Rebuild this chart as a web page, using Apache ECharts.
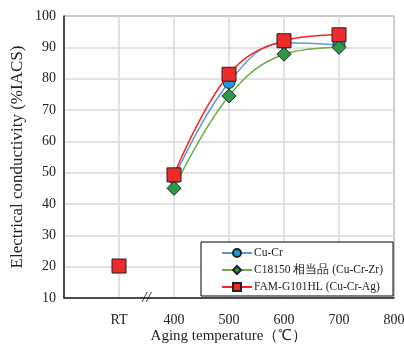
<!DOCTYPE html>
<html>
<head>
<meta charset="utf-8">
<script src="https://cdn.jsdelivr.net/npm/echarts@6/dist/echarts.min.js"></script>
<style>html,body{margin:0;padding:0;background:#fff;}#c{width:404px;height:345px;}</style>
</head>
<body>
<div id="c"></div>
<script>
var seriesNames = ['Cu-Cr', 'C18150 相当品 (Cu-Cr-Zr)', 'FAM-G101HL (Cu-Cr-Ag)'];
var temps = [400, 500, 600, 700];
var rtTemp = 300;
var cuCr = [48.3, 78.8, 91.5, 90.8];
var c18150 = [45.0, 74.5, 87.8, 90.0];
var fam = [49.3, 81.4, 92.1, 94.0];
var rtValues = [20.0, 20.0, 20.2];
var xTickLabels = {200: '', 300: 'RT', 400: '400', 500: '500', 600: '600', 700: '700', 800: '800'};
var breakAt = 350;

var font = '"Liberation Serif", "Times New Roman", serif';
var lineColors = ['#5b9bd5', '#70ad47', '#ff2020'];
var fillColors = ['#1e9cd8', '#2e9a48', '#ee2a2a'];
var symbols = ['circle', 'diamond', 'rect'];
var sizes = [12, 14, 14];
var dataSets = [cuCr, c18150, fam];

var series = [];
seriesNames.forEach(function (n, i) {
  series.push({
    name: n, type: 'line', smooth: 0.4,
    data: temps.map(function (t, k) { return [t, dataSets[i][k]]; }),
    symbol: symbols[i], symbolSize: sizes[i],
    lineStyle: { color: lineColors[i], width: 1.5 },
    itemStyle: { color: fillColors[i], borderColor: '#222', borderWidth: 1, opacity: 1 },
    z: 2 + i
  });
});
seriesNames.forEach(function (n, i) {
  series.push({
    name: n, type: 'scatter',
    data: [[rtTemp, rtValues[i]]],
    symbol: symbols[i], symbolSize: i === 1 ? 12 : sizes[i],
    itemStyle: { color: fillColors[i], borderColor: '#222', borderWidth: 1, opacity: 1 },
    z: 2 + i
  });
});
series[0].markPoint = {
  symbol: 'circle', symbolSize: 1,
  itemStyle: { color: 'rgba(0,0,0,0)' },
  label: { show: true, position: 'inside', formatter: '//', fontFamily: font, fontStyle: 'italic', fontSize: 15, color: '#111' },
  data: [{ coord: [breakAt, 10] }]
};

var chart = echarts.init(document.getElementById('c'), null, { renderer: 'canvas' });
chart.setOption({
  animation: false,
  backgroundColor: '#fff',
  textStyle: { fontFamily: font },
  grid: { left: 64, right: 10, top: 16, bottom: 47, outerBoundsMode: 'none', containLabel: false, show: true, borderColor: '#444', borderWidth: 1 },
  legend: {
    data: seriesNames,
    orient: 'vertical', left: 201, top: 242,
    padding: [5, 10, 3, 20], itemGap: 5, itemWidth: 30, itemHeight: 10,
    borderColor: '#000', borderWidth: 1, backgroundColor: '#fff',
    textStyle: { fontFamily: font, fontSize: 11.5, color: '#222', padding: [0, 0, 0, -3] }
  },
  xAxis: {
    type: 'value', min: 200, max: 800, interval: 100,
    name: 'Aging temperature（℃）', nameLocation: 'middle', nameGap: 31, nameMoveOverlap: false,
    nameTextStyle: { fontFamily: font, fontSize: 15, color: '#222' },
    axisLine: { lineStyle: { color: '#222', width: 1.5 } },
    axisTick: { show: false },
    axisLabel: { margin: 15, fontFamily: font, fontSize: 14, color: '#222', formatter: function (v) { return xTickLabels[v] !== undefined ? xTickLabels[v] : ''; } },
    splitLine: { show: true, lineStyle: { color: '#d9d9d9', width: 1.5 } }
  },
  yAxis: {
    type: 'value', min: 10, max: 100, interval: 10,
    name: 'Electrical conductivity (%IACS)', nameLocation: 'middle', nameGap: 38, nameMoveOverlap: false,
    nameTextStyle: { fontFamily: font, fontSize: 17, color: '#222' },
    axisLine: { show: true, lineStyle: { color: '#222', width: 1.5 } },
    axisTick: { show: false },
    axisLabel: { margin: 8, fontFamily: font, fontSize: 14, color: '#222' },
    splitLine: { show: true, lineStyle: { color: '#d9d9d9', width: 1.5 } }
  },
  series: series
});
</script>
</body>
</html>
